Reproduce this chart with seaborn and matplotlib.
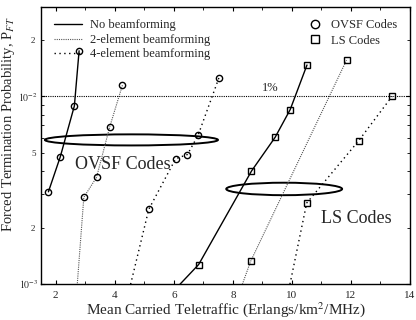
import matplotlib

matplotlib.use("Agg")
import matplotlib.pyplot as plt
import numpy as np
import pandas as pd
import seaborn as sns
from matplotlib.lines import Line2D
from matplotlib.patches import Ellipse
from matplotlib.ticker import FixedLocator, FuncFormatter, LogLocator, MultipleLocator

# OVSF codes (circles)
ovsf_none_x = [1.75, 2.15, 2.63, 2.79]
ovsf_none_y = [3.1e-3, 4.75e-3, 8.9e-3, 1.75e-2]
ovsf_2el_x = [2.68, 2.95, 3.38, 3.83, 4.26]
ovsf_2el_y = [7.9e-4, 2.9e-3, 3.7e-3, 6.9e-3, 1.15e-2]
ovsf_4el_x = [4.38, 5.15, 6.06, 6.46, 6.82, 7.53]
ovsf_4el_y = [7.9e-4, 2.5e-3, 4.65e-3, 4.9e-3, 6.2e-3, 1.26e-2]

# LS codes (squares)
ls_none_x = [5.6, 6.84, 8.63, 9.43, 9.94, 10.51]
ls_none_y = [7.9e-4, 1.27e-3, 4.0e-3, 6.05e-3, 8.5e-3, 1.47e-2]
ls_2el_x = [8.09, 8.6, 11.85]
ls_2el_y = [7.9e-4, 1.32e-3, 1.56e-2]
ls_4el_x = [9.8, 10.5, 12.26, 13.39]
ls_4el_y = [7.9e-4, 2.7e-3, 5.8e-3, 1.0e-2]

threshold = 1e-2

sns.set_theme(style="ticks")
plt.rcParams["font.family"] = ["Liberation Serif", "DejaVu Serif"]
plt.rcParams["mathtext.fontset"] = "stix"

styles = {
    "none": dict(linestyle="-", color="black", lw=1.0),
    "2el": dict(linestyle=(0, (1, 1)), color="#555555", lw=0.8),
    "4el": dict(linestyle=(0, (1, 2.5)), color="black", lw=1.0),
}

series = [
    (ovsf_none_x, ovsf_none_y, "none", "o"),
    (ovsf_2el_x, ovsf_2el_y, "2el", "o"),
    (ovsf_4el_x, ovsf_4el_y, "4el", "o"),
    (ls_none_x, ls_none_y, "none", "s"),
    (ls_2el_x, ls_2el_y, "2el", "s"),
    (ls_4el_x, ls_4el_y, "4el", "s"),
]

fig = plt.figure(figsize=(4.16, 3.2), dpi=100)
ax = fig.add_axes([0.0986, 0.1125, 0.887, 0.866])

for xs, ys, key, mk in series:
    df = pd.DataFrame({"x": xs, "y": ys})
    st = styles[key]
    sns.lineplot(data=df, x="x", y="y", ax=ax, sort=False, estimator=None,
                 color=st["color"], lw=st["lw"], linestyle=st["linestyle"],
                 marker=mk, markersize=4.5, markerfacecolor="none",
                 markeredgecolor="black", markeredgewidth=1.0)

ax.axhline(threshold, color="black", lw=0.8, linestyle=(0, (1, 1)))
ax.text(9.25, threshold * 1.03, "1%", ha="center", va="bottom", fontsize=9)

ax.set_yscale("log")
ax.set_xlim(1.5, 14)
ax.set_ylim(1e-3, 3e-2)
ax.xaxis.set_major_locator(MultipleLocator(2))
ax.xaxis.set_minor_locator(MultipleLocator(1))
ax.yaxis.set_major_locator(FixedLocator([1e-3, 1e-2]))
ax.yaxis.set_major_formatter(FuncFormatter(lambda v, p: f"$10^{{{int(round(np.log10(v)))}}}$"))
ax.yaxis.set_minor_locator(LogLocator(base=10, subs=np.arange(2, 10)))


def minor_fmt(v, p):
    d = v / 10 ** np.floor(np.log10(v) + 1e-9)
    d = int(round(d))
    return str(d) if d in (2, 5) else ""


ax.yaxis.set_minor_formatter(FuncFormatter(minor_fmt))
ax.tick_params(which="both", direction="in", top=True, right=True, color="black")
ax.tick_params(which="major", length=3, width=0.8, labelsize=8, pad=5)
ax.tick_params(which="minor", length=2, width=0.6)
ax.tick_params(axis="y", which="major", labelsize=7, pad=2)
ax.tick_params(axis="y", which="minor", labelsize=6.5, pad=4)
for s in ax.spines.values():
    s.set_linewidth(1.0)
    s.set_color("black")

ax.set_xlabel("Mean Carried Teletraffic (Erlangs/km$^2$/MHz)", fontsize=11, labelpad=0)
ax.set_ylabel("Forced Termination Probability, P$_{FT}$", fontsize=10.5)
ax.yaxis.set_label_coords(-0.064, 0.575)

ax.add_patch(Ellipse((0.245, 0.52), 0.469, 0.04, transform=ax.transAxes,
                     fill=False, lw=1.4, color="black"))
ax.add_patch(Ellipse((0.659, 0.343), 0.314, 0.045, transform=ax.transAxes,
                     fill=False, lw=1.4, color="black"))
ax.text(0.222, 0.433, "OVSF Codes", transform=ax.transAxes, ha="center", va="center", fontsize=13)
ax.text(0.854, 0.235, "LS Codes", transform=ax.transAxes, ha="center", va="center", fontsize=13)

h1 = [Line2D([], [], **styles[k]) for k in ("none", "2el", "4el")]
leg1 = ax.legend(h1, ["No beamforming", "2-element beamforming", "4-element beamforming"],
                 loc="upper left", frameon=False, fontsize=9, handlelength=2.3,
                 handletextpad=0.6, labelspacing=0.2, borderaxespad=0.6)
ax.add_artist(leg1)
h2 = [Line2D([], [], linestyle="none", marker=m, markersize=6, markerfacecolor="none",
             markeredgecolor="black", markeredgewidth=1.0) for m in ("o", "s")]
ax.legend(h2, ["OVSF Codes", "LS Codes"], loc="upper right", frameon=False, fontsize=9,
          handlelength=1.0, handletextpad=0.8, labelspacing=0.25, borderaxespad=0.6)

fig.savefig("out.png", dpi=100, facecolor="white")
